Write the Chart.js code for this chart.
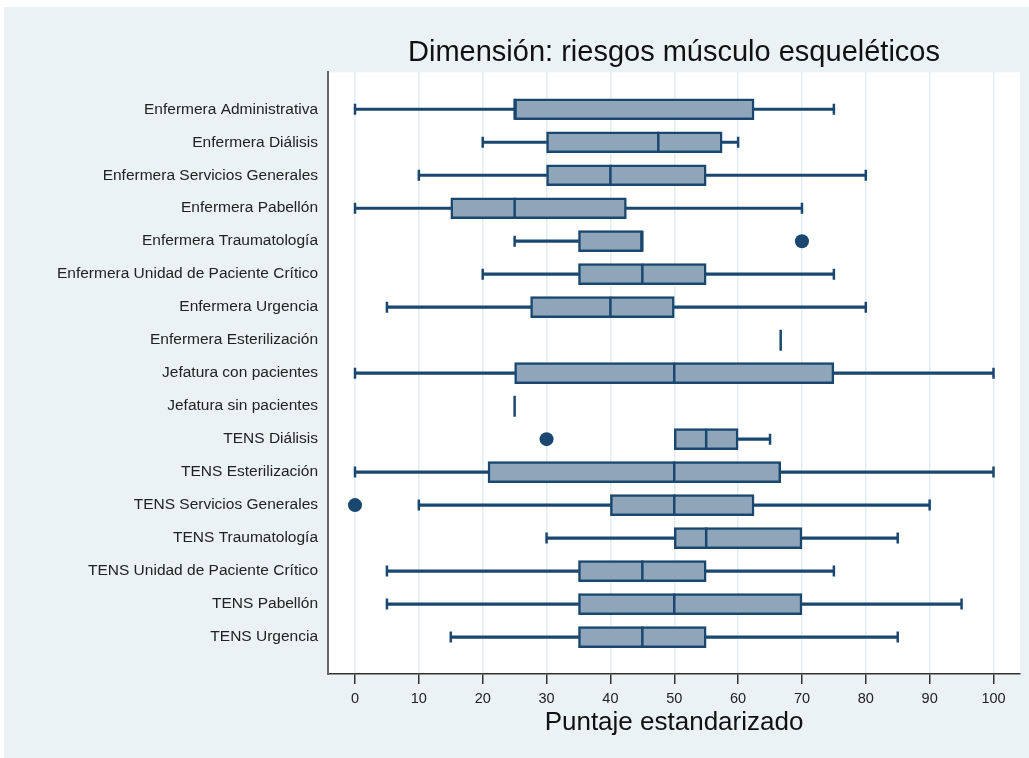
<!DOCTYPE html>
<html>
<head>
<meta charset="utf-8">
<script src="https://cdn.jsdelivr.net/npm/chart.js@4/dist/chart.umd.min.js"></script>
<style>
  body { margin: 0; background: #ffffff; }
  #wrap { position: absolute; left: 4px; top: 7px; width: 1025px; height: 751px; background: #eaf2f3; }
</style>
</head>
<body>
<div id="wrap"><canvas id="box" width="1025" height="751"></canvas></div>
<script>
const groups = [
  'Enfermera Administrativa', 'Enfermera Diálisis', 'Enfermera Servicios Generales',
  'Enfermera Pabellón', 'Enfermera Traumatología', 'Enfermera Unidad de Paciente Crítico',
  'Enfermera Urgencia', 'Enfermera Esterilización', 'Jefatura con pacientes',
  'Jefatura sin pacientes', 'TENS Diálisis', 'TENS Esterilización',
  'TENS Servicios Generales', 'TENS Traumatología', 'TENS Unidad de Paciente Crítico',
  'TENS Pabellón', 'TENS Urgencia'
];
const lowerWhisker = [0, 20, 10, 0, 25, 20, 5, null, 0, null, null, 0, 10, 30, 5, 5, 15];
const q1 = [25, 30, 30, 15, 35, 35, 27.5, 66.67, 25, 25, 50, 20.83, 40, 50, 35, 35, 35];
const median = [25, 47.5, 40, 25, 45, 45, 40, 66.67, 50, 25, 55, 50, 50, 55, 45, 50, 45];
const q3 = [62.5, 57.5, 55, 42.5, 45, 55, 50, 66.67, 75, 25, 60, 66.67, 62.5, 70, 55, 70, 55];
const upperWhisker = [75, 60, 80, 70, null, 75, 80, null, 100, null, 65, 100, 90, 85, 75, 95, 85];
const outlierGroup = [4, 10, 12];
const outlierValue = [70, 30, 0];
const xTicks = [0, 10, 20, 30, 40, 50, 60, 70, 80, 90, 100];

const navy = '#1a476f';
const boxFill = '#8fa6ba';

const lowBars = [], highBars = [], caps = [];
groups.forEach((g, i) => {
  if (lowerWhisker[i] !== null) {
    lowBars.push({ x: [lowerWhisker[i], q1[i]], y: i });
    caps.push({ x: lowerWhisker[i], y: i });
  }
  if (upperWhisker[i] !== null) {
    highBars.push({ x: [q3[i], upperWhisker[i]], y: i });
    caps.push({ x: upperWhisker[i], y: i });
  }
});

const whiteArea = {
  id: 'whiteArea',
  beforeDraw(chart) {
    const a = chart.chartArea, ctx = chart.ctx;
    ctx.save();
    ctx.fillStyle = '#ffffff';
    ctx.fillRect(a.left, a.top, a.right - a.left, a.bottom - a.top);
    ctx.restore();
  }
};

new Chart(document.getElementById('box'), {
  type: 'bar',
  data: {
    datasets: [
      {
        type: 'scatter', data: outlierGroup.map((g, k) => ({ x: outlierValue[k], y: g })),
        pointStyle: 'circle', pointRadius: 7, backgroundColor: navy, borderColor: navy,
        borderWidth: 0, order: 0
      },
      {
        type: 'scatter', data: median.map((m, i) => ({ x: m, y: i })),
        pointStyle: 'line', pointRadius: 10.5, rotation: 90, borderColor: navy,
        borderWidth: 2.5, order: 1
      },
      {
        type: 'scatter', data: caps,
        pointStyle: 'line', pointRadius: 5.5, rotation: 90, borderColor: navy,
        borderWidth: 2.5, order: 1
      },
      {
        indexAxis: 'y', grouped: false, data: groups.map((g, i) => ({ x: [q1[i], q3[i]], y: i })),
        backgroundColor: boxFill, borderColor: navy, borderWidth: 2.5,
        borderSkipped: false, barThickness: 21, order: 2
      },
      {
        indexAxis: 'y', grouped: false, data: lowBars, backgroundColor: navy, borderWidth: 0,
        barThickness: 2.5, order: 3
      },
      {
        indexAxis: 'y', grouped: false, data: highBars, backgroundColor: navy, borderWidth: 0,
        barThickness: 2.5, order: 3
      }
    ]
  },
  options: {
    responsive: false,
    animation: false,
    events: [],
    layout: { autoPadding: false, padding: { left: 0, right: 9, top: 0, bottom: 0 } },
    plugins: {
      legend: { display: false },
      tooltip: { enabled: false },
      title: {
        display: true,
        text: 'Dimensión: riesgos músculo esqueléticos',
        fullSize: false,
        color: '#111111',
        font: { family: 'Liberation Sans, Arial, sans-serif', size: 29, weight: 'normal' },
        padding: { top: 29, bottom: 1.5 }
      }
    },
    scales: {
      x: {
        type: 'linear',
        min: -4.23,
        max: 104.15,
        offset: false,
        afterBuildTicks: (scale) => { scale.ticks = xTicks.map(v => ({ value: v })); },
        afterFit: (scale) => { scale.height = 84; scale.paddingLeft = 0; scale.paddingRight = 0; },
        grid: {
          offset: false,
          color: '#e3edf0', lineWidth: 1.5, drawTicks: true, tickLength: 10,
          tickColor: '#333333', tickWidth: 1.5
        },
        border: { display: true, color: '#333333', width: 1.5 },
        ticks: {
          color: '#222222', padding: 6, maxRotation: 0,
          font: { family: 'Liberation Sans, Arial, sans-serif', size: 14.5 }
        },
        title: {
          display: true, text: 'Puntaje estandarizado', color: '#111111',
          font: { family: 'Liberation Sans, Arial, sans-serif', size: 26 },
          padding: { top: 0, bottom: 20 }
        }
      },
      y: {
        type: 'linear',
        min: -1.12,
        max: 17.12,
        reverse: true,
        offset: false,
        afterBuildTicks: (scale) => { scale.ticks = groups.map((g, i) => ({ value: i })); },
        afterFit: (scale) => { scale.width = 324; scale.paddingTop = 0; scale.paddingBottom = 0; },
        grid: { display: false, drawTicks: false, offset: false },
        border: { display: true, color: '#666666', width: 2 },
        ticks: {
          color: '#222222', padding: 10, autoSkip: false,
          font: { family: 'Liberation Sans, Arial, sans-serif', size: 15.5 },
          callback: (v) => groups[v]
        }
      }
    }
  },
  plugins: [whiteArea]
});
</script>
</body>
</html>
